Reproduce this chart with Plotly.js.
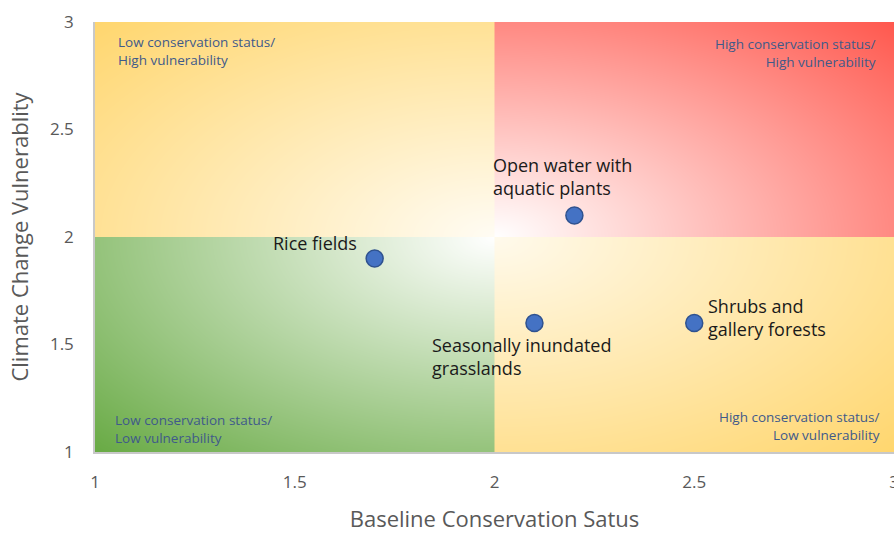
<!DOCTYPE html>
<html>
<head>
<meta charset="utf-8">
<script src="https://cdn.plot.ly/plotly-3.0.1.min.js"></script>
<style>html,body{margin:0;padding:0;background:#fff;}#chart{width:894px;height:533px;}</style>
</head>
<body>
<div id="chart"></div>
<script>
// ---- data ----
const habitats = ['Rice fields', 'Open water with<br>aquatic plants', 'Seasonally inundated<br>grasslands', 'Shrubs and<br>gallery forests'];
const conservationStatus = [1.7, 2.2, 2.1, 2.5];
const climateVulnerability = [1.9, 2.1, 1.6, 1.6];
const tickValues = [1, 1.5, 2, 2.5, 3];
const tickLabels = ['1', '1.5', '2', '2.5', '3'];
const quadrantLabels = [
  'Low conservation status/<br>High vulnerability',
  'High conservation status/<br>High vulnerability',
  'Low conservation status/<br>Low vulnerability',
  'High conservation status/<br>Low vulnerability'
];
const xTitle = 'Baseline Conservation Satus';
const yTitle = 'Climate Change Vulnerablity';

// ---- styling helpers ----
const labelStyle = [
  {xanchor: 'right', yanchor: 'middle', xshift: -16, yshift: 16, align: 'right'},
  {xanchor: 'center', yanchor: 'bottom', xshift: -12, yshift: 14, align: 'left'},
  {xanchor: 'left', yanchor: 'top', xshift: -104, yshift: -8, align: 'left'},
  {xanchor: 'left', yanchor: 'middle', xshift: 12, yshift: 6, align: 'left'}
];
const quadStyle = [
  {x: 0.026, y: 0.98, xanchor: 'left', yanchor: 'top', align: 'left'},
  {x: 0.98, y: 0.975, xanchor: 'right', yanchor: 'top', align: 'right'},
  {x: 0.022, y: 0.008, xanchor: 'left', yanchor: 'bottom', align: 'left'},
  {x: 0.985, y: 0.013, xanchor: 'right', yanchor: 'bottom', align: 'right'}
];

function buildBackground() {
  const W = 800, H = 430;
  const c = document.createElement('canvas');
  c.width = W; c.height = H;
  const ctx = c.getContext('2d');
  const img = ctx.createImageData(W, H);
  const cx = W / 2, cy = H / 2;
  const cols = {
    tl: [[255, 252, 244], [255, 214, 110]],
    tr: [[255, 255, 255], [255, 88, 78]],
    bl: [[255, 255, 255], [104, 170, 68]],
    br: [[255, 250, 236], [255, 214, 110]]
  };
  for (let y = 0; y < H; y++) {
    for (let x = 0; x < W; x++) {
      const left = x < cx, top = y < cy;
      const key = (top ? 't' : 'b') + (left ? 'l' : 'r');
      const nx = Math.abs(x - cx) / cx, ny = Math.abs(y - cy) / cy;
      let t = Math.min(1, Math.sqrt(nx * nx + ny * ny) / Math.SQRT2);
      const a = cols[key][0], b = cols[key][1];
      const i = (y * W + x) * 4;
      img.data[i] = a[0] + (b[0] - a[0]) * t;
      img.data[i + 1] = a[1] + (b[1] - a[1]) * t;
      img.data[i + 2] = a[2] + (b[2] - a[2]) * t;
      img.data[i + 3] = 255;
    }
  }
  ctx.putImageData(img, 0, 0);
  return c.toDataURL('image/png');
}

const FONT = 'Open Sans, Noto Sans, sans-serif';

const trace = {
  type: 'scatter',
  mode: 'markers',
  x: conservationStatus,
  y: climateVulnerability,
  marker: {size: 17, color: '#4472C4', line: {color: '#2F528F', width: 1.5}},
  hoverinfo: 'x+y',
  showlegend: false
};

const annotations = [];
habitats.forEach((h, i) => {
  annotations.push(Object.assign({
    x: conservationStatus[i], y: climateVulnerability[i], xref: 'x', yref: 'y',
    text: h, showarrow: false,
    font: {family: FONT, size: 18, color: '#1a1a1a'}
  }, labelStyle[i]));
});
quadrantLabels.forEach((q, i) => {
  annotations.push(Object.assign({
    xref: 'paper', yref: 'paper', text: q, showarrow: false,
    font: {family: FONT, size: 13.5, color: '#3F5A8A'}
  }, quadStyle[i]));
});

const layout = {
  width: 894, height: 533,
  margin: {l: 95, r: 0, t: 22, b: 81},
  paper_bgcolor: '#ffffff',
  plot_bgcolor: 'rgba(0,0,0,0)',
  xaxis: {
    range: [1, 3], tickvals: tickValues, ticktext: tickLabels,
    showgrid: false, zeroline: false,
    showline: true, linecolor: '#C8C8C8', linewidth: 1.5,
    ticks: 'outside', ticklen: 14, tickcolor: 'rgba(0,0,0,0)',
    ticklabeloverflow: 'allow',
    tickfont: {family: FONT, size: 17, color: '#595959'},
    title: {text: xTitle, standoff: 22, font: {family: FONT, size: 22, color: '#595959'}}
  },
  yaxis: {
    range: [1, 3], tickvals: tickValues, ticktext: tickLabels,
    showgrid: false, zeroline: false,
    showline: true, linecolor: '#C8C8C8', linewidth: 1.5,
    ticks: 'outside', ticklen: 16, tickcolor: 'rgba(0,0,0,0)',
    ticklabeloverflow: 'allow',
    tickfont: {family: FONT, size: 17, color: '#595959'},
    title: {text: yTitle, standoff: 15, font: {family: FONT, size: 22, color: '#595959'}}
  },
  images: [{
    source: buildBackground(), xref: 'x', yref: 'y', x: 1, y: 3,
    sizex: 2, sizey: 2, sizing: 'stretch', layer: 'below'
  }],
  annotations: annotations
};

Plotly.newPlot('chart', [trace], layout, {displayModeBar: false, responsive: false});
</script>
</body>
</html>
